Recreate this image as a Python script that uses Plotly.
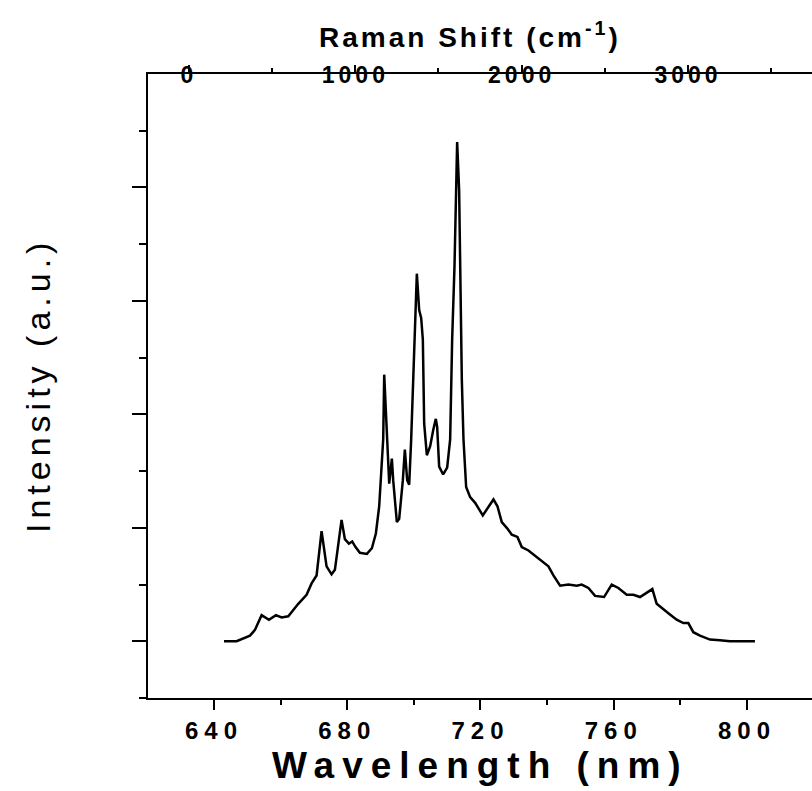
import plotly.graph_objects as go

# Emission spectrum: wavelength (nm) and intensity (arbitrary units)
wavelength = [
    643.0, 646.8, 650.8, 652.3, 654.3, 656.5, 658.6, 660.3, 662.3, 665.3,
    667.8, 669.3, 670.8, 671.6, 672.3, 673.8, 675.3, 676.3, 677.3, 678.3,
    679.3, 680.5, 681.5, 682.5, 683.8, 685.9, 687.4, 688.6, 689.6, 690.4,
    690.8, 691.1, 691.6, 692.2, 692.6, 693.4, 693.8, 694.9, 695.6, 696.7,
    697.3, 698.0, 698.6, 699.2, 699.8, 700.4, 700.9, 701.6, 702.2, 702.7,
    702.9, 703.1, 703.9, 704.9, 705.8, 706.6, 707.0, 707.6, 708.8, 710.0,
    710.9, 711.5, 712.2, 712.6, 713.0, 713.6, 714.1, 714.4, 714.9, 715.7,
    716.9, 718.4, 720.7, 722.4, 723.9, 725.1, 726.4, 727.9, 729.4, 731.1,
    732.4, 734.4, 736.9, 738.4, 740.4, 741.9, 743.9, 746.4, 748.9, 750.4,
    752.4, 754.4, 757.1, 759.4, 761.4, 763.9, 765.9, 767.9, 769.9, 771.6,
    772.9, 774.9, 776.7, 778.9, 780.9, 782.4, 783.9, 785.9, 788.9, 791.9,
    794.9, 802.4,
]
intensity = [
    0.00, 0.00, 0.05, 0.10, 0.23, 0.19, 0.23, 0.21, 0.22, 0.33,
    0.41, 0.51, 0.58, 0.78, 0.97, 0.66, 0.59, 0.63, 0.83, 1.07,
    0.90, 0.86, 0.88, 0.83, 0.78, 0.77, 0.82, 0.95, 1.19, 1.60,
    1.78, 2.35, 2.07, 1.66, 1.39, 1.61, 1.42, 1.05, 1.08, 1.42,
    1.69, 1.42, 1.38, 1.78, 2.37, 2.84, 3.24, 2.92, 2.85, 2.66,
    2.31, 1.92, 1.64, 1.72, 1.86, 1.96, 1.89, 1.54, 1.47, 1.53,
    1.78, 2.66, 3.30, 3.97, 4.40, 3.97, 2.99, 2.31, 1.78, 1.36,
    1.27, 1.22, 1.11, 1.19, 1.25, 1.19, 1.05, 1.00, 0.94, 0.92,
    0.83, 0.80, 0.74, 0.70, 0.66, 0.58, 0.49, 0.50, 0.49, 0.50,
    0.47, 0.40, 0.39, 0.50, 0.47, 0.41, 0.41, 0.39, 0.43, 0.46,
    0.33, 0.28, 0.24, 0.19, 0.16, 0.16, 0.08, 0.05, 0.015, 0.01,
    0.00, 0.00,
]

# Axis ticks
wl_ticks = [640, 680, 720, 760, 800]
raman_ticks = [0, 1000, 2000, 3000]

W, H = 812, 791
L, R, T, B = 148, 0, 74, 93
FONT = "Arial, Liberation Sans, sans-serif"

fig = go.Figure()
fig.add_trace(go.Scatter(
    x=wavelength, y=intensity, mode="lines",
    line=dict(color="black", width=2.5), showlegend=False, hoverinfo="skip",
))
# invisible trace that activates the Raman shift axis
fig.add_trace(go.Scatter(
    x=[raman_ticks[0]], y=[0], xaxis="x2", mode="markers",
    marker=dict(opacity=0), showlegend=False, hoverinfo="skip",
))

fig.update_layout(
    width=W, height=H,
    margin=dict(l=L, r=R, t=T, b=B, pad=0),
    plot_bgcolor="white", paper_bgcolor="white",
    xaxis=dict(
        range=[620.19, 819.53], tickmode="array", tickvals=wl_ticks,
        ticktext=[f"<b>{v}</b>" for v in wl_ticks],
        showline=True, linecolor="black", linewidth=2, mirror=False,
        ticks="outside", ticklen=10, tickwidth=2, tickcolor="black",
        minor=dict(tickmode="linear", tick0=620, dtick=20, ticks="outside",
                   ticklen=5, tickwidth=2, tickcolor="black"),
        showgrid=False, zeroline=False,
        tickfont=dict(family=FONT, size=24, color="black"),
    ),
    xaxis2=dict(
        overlaying="x", side="top", range=[-246.5, 3745.6],
        tickmode="array", tickvals=raman_ticks,
        ticktext=[f"<b>{v}</b>" for v in raman_ticks],
        showline=True, linecolor="black", linewidth=2,
        ticks="outside", ticklen=7, tickwidth=2, tickcolor="black",
        ticklabelposition="inside", ticklabelstandoff=-5,
        minor=dict(tickmode="linear", tick0=-500, dtick=1000, ticks="outside",
                   ticklen=4, tickwidth=2, tickcolor="black"),
        showgrid=False, zeroline=False,
        tickfont=dict(family=FONT, size=23, color="black"),
    ),
    yaxis=dict(
        range=[-0.5, 5.0], tickmode="linear", tick0=0, dtick=1,
        showticklabels=False,
        showline=True, linecolor="black", linewidth=2,
        ticks="outside", ticklen=14, tickwidth=2, tickcolor="black",
        minor=dict(tickmode="linear", tick0=-0.5, dtick=1, ticks="outside",
                   ticklen=7, tickwidth=2, tickcolor="black"),
        showgrid=False, zeroline=False,
    ),
    annotations=[
        dict(text="<b>Wavelength (nm)</b>", xref="paper", yref="paper",
             x=0.5, y=0, yanchor="middle", yshift=-67, showarrow=False,
             font=dict(family=FONT, size=37, color="black")),
        dict(text="<b>Raman Shift (cm<sup>-1</sup>)</b>", xref="paper", yref="paper",
             x=0.485, y=1, yanchor="middle", yshift=39, showarrow=False,
             font=dict(family=FONT, size=28, color="black")),
        dict(text="Intensity (a.u.)", xref="paper", yref="paper",
             x=0, xanchor="center", xshift=-110, y=0.5, yanchor="middle",
             textangle=-90, showarrow=False,
             font=dict(family=FONT, size=34, color="black")),
    ],
)

# Wide letter spacing on the labels and titles
spacing_js = """
var gd = document.getElementById('{plot_id}');
function spaceText() {
  gd.querySelectorAll('.xtick text').forEach(function(t){ t.style.letterSpacing = '6px'; });
  gd.querySelectorAll('.x2tick text').forEach(function(t){ t.style.letterSpacing = '4px'; });
  var a0 = gd.querySelector('.annotation[data-index="0"] text');
  if (a0) a0.style.letterSpacing = '8px';
  var a1 = gd.querySelector('.annotation[data-index="1"] text');
  if (a1) a1.style.letterSpacing = '3px';
  var a2 = gd.querySelector('.annotation[data-index="2"] text');
  if (a2) a2.style.letterSpacing = '5px';
}
spaceText();
gd.on('plotly_afterplot', spaceText);
"""

fig.write_html("out.html", post_script=spacing_js)
